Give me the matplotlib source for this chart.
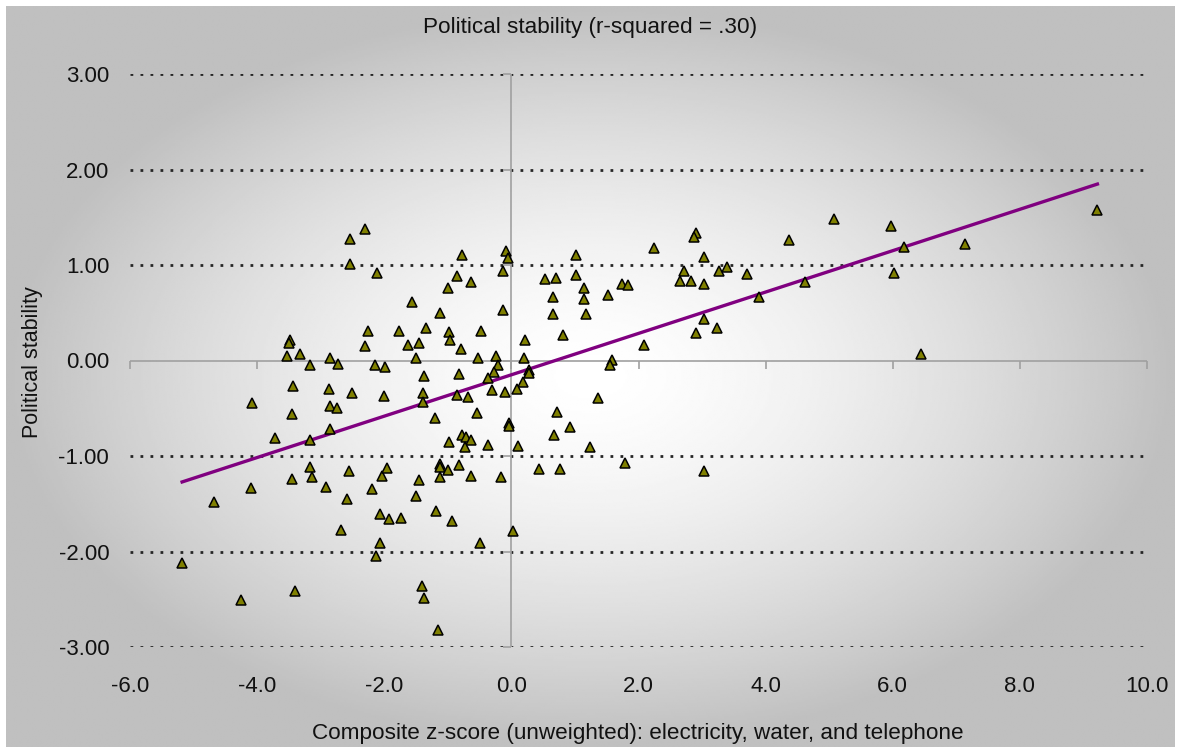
import numpy as np
import matplotlib.pyplot as plt
from matplotlib.markers import TICKDOWN, TICKLEFT

# valores (z-score compuesto, estabilidad política)
x_vals = [
    -2.54, -2.30, -2.54, -2.12, -2.26, -2.31, -3.48, -3.50, -3.53, -3.32,
    -3.17, -2.85, -2.72, -2.14, -1.99, -3.44, -2.87, -2.51, -2.01, -4.08,
    -2.86, -2.74, -3.45, -3.72, -3.17, -2.85, -3.17, -2.56, -3.45, -3.13,
    -2.92, -4.09, -4.68, -2.58, -2.19, -2.04, -1.95, -2.06, -1.93, -2.68,
    -2.07, -2.13, -5.18, -3.41, -4.25,
    -0.78, -0.09, -0.05, 1.02, -0.13, -0.86, -0.63, -0.99, -1.56, -1.12,
    -0.13, -1.77, -1.35, -0.98, -0.97, -0.48, -1.62, -1.46, -0.79, -1.50,
    -0.53, -0.24, -1.38, -0.82, -0.21, -0.27, -0.36, 0.22, 0.20, 0.27,
    0.28, 0.19, 0.09, -1.39, -1.39, -0.86, -0.69, -0.30, -0.10, -0.54,
    -1.20, 0.72, 1.36, 0.53, 0.70, 1.02, 0.66, 1.14, 1.14, 0.66,
    1.17, 1.52, 1.74, 1.84, 0.82, 1.58, 1.55, -0.03, -0.03, 0.93,
    0.67, 1.24, -0.98, -0.78, -0.71, -0.64, -0.73, -0.36, 0.10, -1.12,
    -1.12, -0.99, -0.82, -1.12, -0.64, -0.17, -1.45, 0.43, 0.77, 1.79,
    -1.50, -1.19, -0.93, -1.73, 0.03, -0.50, -1.40, -1.37, -1.16,
    2.91, 2.88, 4.36, 2.24, 3.03, 2.71, 3.27, 3.39, 3.70, 2.65,
    2.82, 3.03, 4.62, 3.89, 3.03, 2.90, 3.23, 2.09, 3.03, 5.08,
    5.97, 9.22, 6.17, 7.13, 6.02, 6.44,
]
y_vals = [
    1.27, 1.38, 1.01, 0.92, 0.31, 0.15, 0.21, 0.18, 0.05, 0.07,
    -0.05, 0.03, -0.04, -0.05, -0.07, -0.27, -0.30, -0.34, -0.37, -0.44,
    -0.48, -0.50, -0.56, -0.81, -0.83, -0.72, -1.11, -1.16, -1.24, -1.22,
    -1.32, -1.34, -1.48, -1.45, -1.35, -1.21, -1.13, -1.61, -1.66, -1.77,
    -1.91, -2.05, -2.12, -2.41, -2.51,
    1.10, 1.15, 1.07, 1.10, 0.94, 0.88, 0.82, 0.76, 0.61, 0.50,
    0.53, 0.31, 0.34, 0.30, 0.21, 0.31, 0.16, 0.18, 0.12, 0.03,
    0.03, 0.05, -0.16, -0.14, -0.05, -0.12, -0.18, 0.21, 0.03, -0.10,
    -0.13, -0.22, -0.30, -0.34, -0.43, -0.36, -0.38, -0.31, -0.33, -0.55,
    -0.60, -0.54, -0.39, 0.85, 0.86, 0.90, 0.66, 0.76, 0.64, 0.49,
    0.49, 0.69, 0.80, 0.79, 0.27, 0.01, -0.05, -0.65, -0.69, -0.70,
    -0.78, -0.91, -0.85, -0.78, -0.80, -0.83, -0.91, -0.88, -0.90, -1.08,
    -1.11, -1.15, -1.09, -1.22, -1.21, -1.22, -1.25, -1.14, -1.14, -1.07,
    -1.42, -1.58, -1.68, -1.65, -1.79, -1.91, -2.36, -2.49, -2.82,
    1.34, 1.29, 1.26, 1.18, 1.08, 0.94, 0.94, 0.98, 0.91, 0.83,
    0.83, 0.80, 0.82, 0.67, 0.43, 0.29, 0.34, 0.16, -1.16, 1.48,
    1.41, 1.58, 1.19, 1.22, 0.92, 0.07,
]

title = 'Political stability (r-squared = .30)'
x_label = 'Composite z-score (unweighted): electricity, water, and telephone'
y_label = 'Political stability'
x_ticks = [-6, -4, -2, 0, 2, 4, 6, 8, 10]
y_ticks = [-3, -2, -1, 0, 1, 2, 3]

fuente = ['Liberation Sans', 'DejaVu Sans']

W, H = 1181, 753
fig = plt.figure(figsize=(W / 100, H / 100), dpi=100)
fig.patch.set_facecolor('white')

# fondo con degradado radial (blanco en el centro, gris en los bordes)
bg = fig.add_axes([6 / W, 6 / H, 1 - 12 / W, 1 - 12 / H])
bg.set_axis_off()
gx, gy = np.meshgrid(np.linspace(-1, 1, 600), np.linspace(-1, 1, 400))
d = np.clip(np.sqrt(gx ** 2 + gy ** 2), 0, 1)
shade = 1 - 0.25 * d ** 1.5
bg.imshow(shade, cmap='gray', vmin=0, vmax=1, aspect='auto',
          interpolation='bilinear')

ax = fig.add_axes([130 / W, (H - 647) / H, (1147 - 130) / W, (647 - 74) / H])
ax.patch.set_alpha(0)
for s in ax.spines.values():
    s.set_visible(False)
ax.set_xlim(-6, 10)
ax.set_ylim(-3, 3)

# líneas de cuadrícula punteadas
for yt in y_ticks:
    if yt != 0:
        ax.axhline(yt, color='#262626', lw=2.0, ls=(0, (1, 2.6)), zorder=1)

# ejes que cruzan en cero
ax.axhline(0, color='#a0a0a0', lw=1.2, zorder=1)
ax.axvline(0, color='#a0a0a0', lw=1.2, zorder=1)
ax.plot(x_ticks, [0] * len(x_ticks), ls='none', marker=TICKDOWN, ms=6,
        mew=1.2, color='#a0a0a0', clip_on=False, zorder=1)
ax.plot([0] * len(y_ticks), y_ticks, ls='none', marker=TICKLEFT, ms=6,
        mew=1.2, color='#a0a0a0', clip_on=False, zorder=1)

# recta de regresión
slope, intercept = np.polyfit(x_vals, y_vals, 1)
xl = np.array([min(x_vals), max(x_vals)])
ax.plot(xl, slope * xl + intercept, color='#800080', lw=2.4, zorder=2)

ax.plot(x_vals, y_vals, ls='none', marker='^', ms=7.5, mfc='#808000',
        mec='black', mew=1.1, zorder=3, clip_on=False)

ax.set_xticks(x_ticks, labels=[f'{v:.1f}' for v in x_ticks])
ax.set_yticks(y_ticks, labels=[f'{v:.2f}' for v in y_ticks])
ax.tick_params(axis='x', length=0, pad=21, labelsize=16)
ax.tick_params(axis='y', length=0, pad=15, labelsize=16)
for lab in ax.get_xticklabels() + ax.get_yticklabels():
    lab.set_family(fuente)
    lab.set_color('#111111')

fig.text(0.5, 1 - 28 / H, title, ha='center', va='center', fontsize=16.2,
         family=fuente, color='#111111')
fig.text(638 / W, 1 - 734 / H, x_label, ha='center', va='center',
         fontsize=16.2, family=fuente, color='#111111')
fig.text(33 / W, 1 - 362 / H, y_label, ha='center', va='center',
         rotation=90, fontsize=15.5, family=fuente, color='#111111')

fig.savefig('out.png', dpi=100)
